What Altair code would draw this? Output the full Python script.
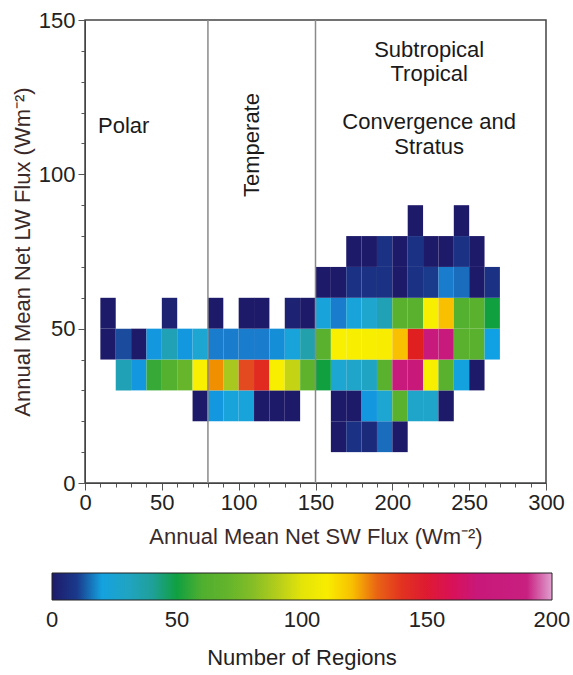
import altair as alt
import pandas as pd

# ---- data: counts per 10x10 W m-2 bin, listed row by row (LW bin start) ----
lw_rows = [10, 20, 30, 40, 50, 60, 70, 80]
sw_by_row = {
    10: [160, 170, 180, 190, 200],
    20: [70, 80, 90, 100, 110, 120, 130, 160, 170, 180, 190, 200, 210, 220, 230],
    30: [20, 30, 40, 50, 60, 70, 80, 90, 100, 110, 120, 130, 140, 150, 160, 170,
         180, 190, 200, 210, 220, 230, 240, 250],
    40: [10, 20, 30, 40, 50, 60, 70, 80, 90, 100, 110, 120, 130, 140, 150, 160,
         170, 180, 190, 200, 210, 220, 230, 240, 250, 260],
    50: [10, 50, 80, 100, 110, 130, 140, 150, 160, 170, 180, 190, 200, 210, 220,
         230, 240, 250, 260],
    60: [150, 160, 170, 180, 190, 200, 210, 220, 230, 240, 250, 260],
    70: [170, 180, 190, 200, 210, 220, 230, 240, 250],
    80: [210, 240],
}
counts_by_row = {
    10: [5, 9, 8, 13, 5],
    20: [5, 17, 22, 22, 6, 5, 5, 5, 5, 17, 25, 65, 28, 28, 5],
    30: [35, 17, 55, 62, 72, 105, 125, 88, 133, 142, 108, 93, 68, 50, 25, 28,
         30, 65, 175, 170, 108, 65, 20, 5],
    40: [5, 11, 5, 17, 35, 17, 25, 14, 14, 14, 14, 16, 22, 38, 65, 105,
         108, 108, 110, 120, 145, 175, 175, 65, 65, 18],
    50: [5, 7, 5, 5, 5, 7, 5, 22, 14, 22, 26, 35, 65, 65, 108,
         120, 62, 65, 50],
    60: [5, 5, 9, 9, 9, 5, 9, 10, 14, 13, 5, 9],
    70: [5, 5, 9, 5, 9, 5, 5, 9, 5],
    80: [5, 5],
}
bin_width = 10

regime_bounds = [80, 150]

left_text = ["Polar"]
left_x = [8.5]
left_y = [115.6]

center_text = ["Subtropical", "Tropical", "Convergence and", "Stratus"]
center_x = [224, 224, 224, 224]
center_y = [140.3, 132.5, 117, 109]

rot_text = ["Temperate"]
rot_x = [109]
rot_y = [109.5]

x_ticks = [0, 10, 20, 30, 40, 50, 60, 70, 80, 90, 100, 110, 120, 130, 140, 150,
           160, 170, 180, 190, 200, 210, 220, 230, 240, 250, 260, 270, 280, 290, 300]
y_ticks = [0, 10, 20, 30, 40, 50, 60, 70, 80, 90, 100, 110, 120, 130, 140, 150]
legend_ticks = [0, 50, 100, 150, 200]

# colour ramp stops (domain ends nudged just past 0 and 200 so the end labels centre)
color_domain = [-0.01, 6, 10, 14, 18, 25, 38, 50, 58, 75, 88, 95, 105, 115, 120,
                125, 133, 145, 158, 170, 190, 200.01]
color_range = ["#1e1a6a", "#1e1a6a", "#1a3a8c", "#1a7ccc", "#10a0e4", "#1ea6d2",
               "#22a0ac", "#10a040", "#4cae30", "#6cb62a", "#a8c820", "#d0d810",
               "#f8f000", "#f8ea00", "#f8c000", "#f09000", "#e44a20", "#e02020",
               "#dc1050", "#c8187a", "#c82080", "#e0a0d0"]

# ---- build tables ----
rows = []
for lw in lw_rows:
    for sw, c in zip(sw_by_row[lw], counts_by_row[lw]):
        rows.append({"sw": sw, "sw2": sw + bin_width, "lw": lw, "lw2": lw + bin_width, "n": c})
cells = pd.DataFrame(rows)
bounds = pd.DataFrame({"x": regime_bounds})
left_df = pd.DataFrame({"t": left_text, "x": left_x, "y": left_y})
center_df = pd.DataFrame({"t": center_text, "x": center_x, "y": center_y})
rot_df = pd.DataFrame({"t": rot_text, "x": rot_x, "y": rot_y})

FONT = "Liberation Sans"
FS = 22
TITLE_COLOR = "#3a2a2a"
MAJOR = {"condition": {"test": "datum.value % 50 === 0", "value": 7}, "value": 4}

x_scale = alt.Scale(domain=[0, 300], nice=False, zero=False)
y_scale = alt.Scale(domain=[0, 150], nice=False, zero=False)

x_axis = alt.Axis(
    title="Annual Mean Net SW Flux (Wm⁻²)",
    values=x_ticks,
    labelExpr="datum.value % 50 === 0 ? datum.label : ''",
    tickSize=MAJOR,
    grid=False, labelFontSize=FS, titleFontSize=FS, labelFont=FONT, titleFont=FONT,
    titleFontWeight="normal", titleColor=TITLE_COLOR, labelColor="#222",
    domainColor="#444", tickColor="#555", labelPadding=2, titlePadding=13,
    labelFlush=False, labelOverlap=False,
)
y_axis = alt.Axis(
    title="Annual Mean Net LW Flux (Wm⁻²)",
    values=y_ticks,
    labelExpr="datum.value % 50 === 0 ? datum.label : ''",
    tickSize=MAJOR,
    grid=False, labelFontSize=FS, titleFontSize=FS, labelFont=FONT, titleFont=FONT,
    titleFontWeight="normal", titleColor=TITLE_COLOR, labelColor="#222",
    domainColor="#444", tickColor="#555", labelPadding=3, titlePadding=4,
    labelFlush=False, labelOverlap=False,
)


def X(field):
    return alt.X(field, scale=x_scale, axis=x_axis)


def Y(field):
    return alt.Y(field, scale=y_scale, axis=y_axis)


heat = alt.Chart(cells).mark_rect().encode(
    x=X("sw:Q"),
    x2="sw2:Q",
    y=Y("lw:Q"),
    y2="lw2:Q",
    color=alt.Color(
        "n:Q",
        scale=alt.Scale(domain=color_domain, range=color_range, interpolate="rgb"),
        legend=alt.Legend(
            title="Number of Regions", orient="none", legendX=-33, legendY=553,
            direction="horizontal", gradientLength=500, gradientThickness=27,
            gradientStrokeColor="#222", gradientStrokeWidth=1,
            values=legend_ticks, labelFontSize=FS, labelFont=FONT,
            labelColor="#222", labelOffset=10,
            titleOrient="bottom", titleAnchor="middle", titleFontSize=FS,
            titleFont=FONT, titleFontWeight="normal", titleColor="#222",
            titlePadding=17, titleLimit=0,
        ),
    ),
)

rules = alt.Chart(bounds).mark_rule(color="#8a8a8a", strokeWidth=1.5).encode(
    x=X("x:Q")
)

text_left = alt.Chart(left_df).mark_text(fontSize=FS, font=FONT, color="#1a1a1a",
                                         baseline="middle", align="left").encode(
    x=X("x:Q"), y=Y("y:Q"), text="t:N",
)

text_center = alt.Chart(center_df).mark_text(fontSize=FS, font=FONT, color="#1a1a1a",
                                             baseline="middle", align="center").encode(
    x=X("x:Q"), y=Y("y:Q"), text="t:N",
)

rot_label = alt.Chart(rot_df).mark_text(fontSize=FS, font=FONT, color="#1a1a1a", angle=270,
                                        baseline="middle", align="center").encode(
    x=X("x:Q"), y=Y("y:Q"), text="t:N",
)

chart = alt.layer(heat, rules, text_left, text_center, rot_label).properties(
    width=461, height=463,
    autosize=alt.AutoSizeParams(type="none"),
    padding={"left": 85, "top": 20, "right": 27, "bottom": 192},
    background="white",
).configure_view(stroke="#444", strokeWidth=1.5)

chart.save("out.html", embed_options={"renderer": "svg", "actions": False})
